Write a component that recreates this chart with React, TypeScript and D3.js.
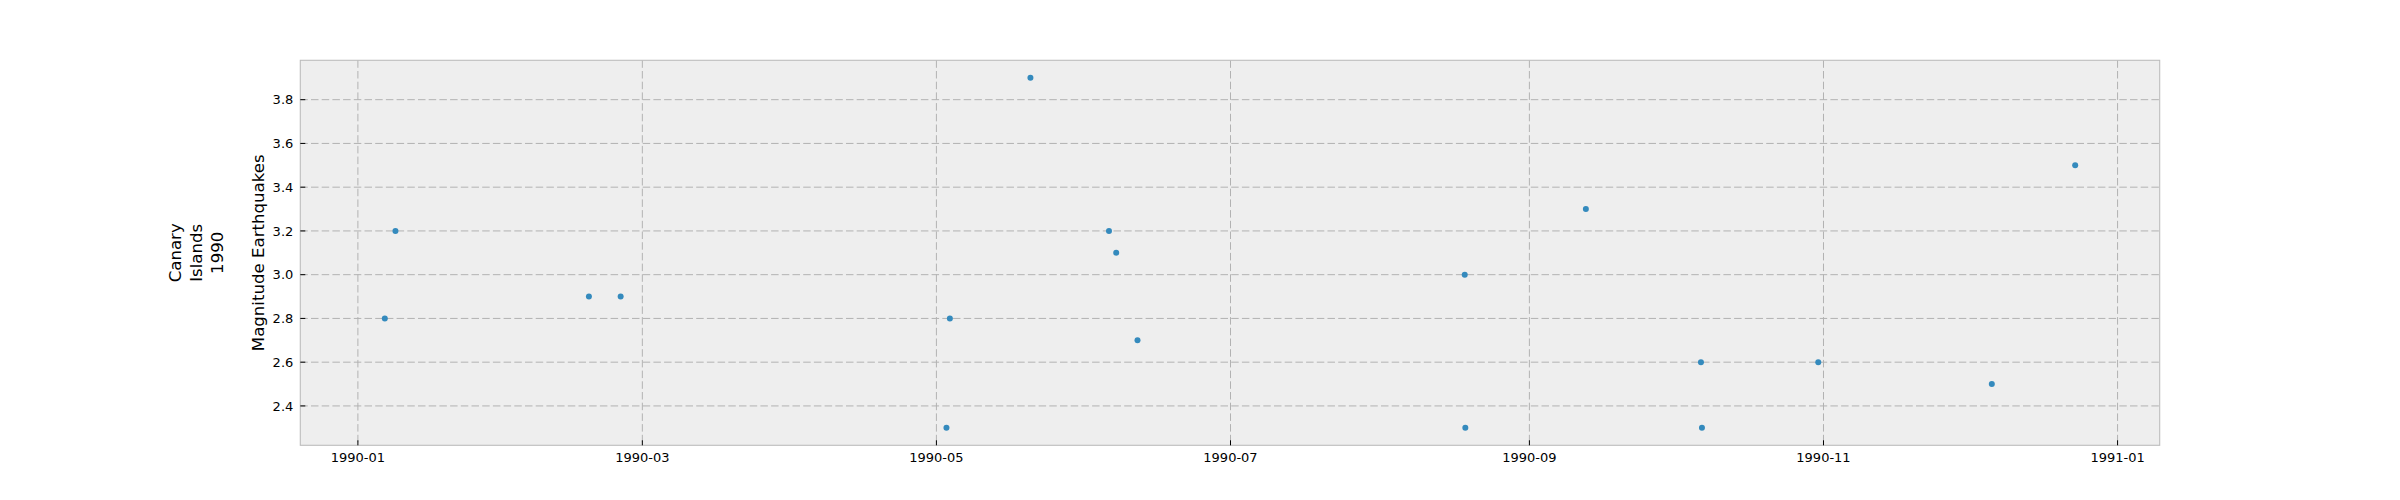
import React from 'react';
import * as d3 from 'd3';

// Event times (UTC) and magnitudes
const eventTimes = [
  '1990-01-06T14:00', '1990-01-08T19:00', '1990-02-17T22:00', '1990-02-24T12:00',
  '1990-05-03T19:00', '1990-05-03T02:00', '1990-05-20T12:00', '1990-06-05T19:00',
  '1990-06-07T07:00', '1990-06-11T17:00', '1990-08-18T14:00', '1990-08-18T17:00',
  '1990-09-12T17:00', '1990-10-06T14:00', '1990-10-06T19:00', '1990-10-30T22:00',
  '1990-12-05T22:00', '1990-12-23T05:00',
];
const magnitudes = [
  2.8, 3.2, 2.9, 2.9,
  2.8, 2.3, 3.9, 3.2,
  3.1, 2.7, 3.0, 2.3,
  3.3, 2.6, 2.3, 2.6,
  2.5, 3.5,
];
const xTickDates = ['1990-01-01', '1990-03-01', '1990-05-01', '1990-07-01', '1990-09-01', '1990-11-01', '1991-01-01'];
const xTickLabels = ['1990-01', '1990-03', '1990-05', '1990-07', '1990-09', '1990-11', '1991-01'];
const yTicks = [2.4, 2.6, 2.8, 3.0, 3.2, 3.4, 3.6, 3.8];
const yLabel = 'Magnitude Earthquakes';
const titleLines = ['Canary', 'Islands', '1990'];

const W = 2400, H = 500;
const L = 300.3, R = 2159.7, T = 60.3, B = 445.3;
const FONT = 'DejaVu Sans, sans-serif';

const parseT = (s: string) => new Date(s + 'Z');

export default function App() {
  const times = eventTimes.map(parseT);
  const tMin = d3.min(times)!.getTime();
  const tMax = d3.max(times)!.getTime();
  const tPad = (tMax - tMin) * 0.05;
  const x = d3.scaleUtc().domain([new Date(tMin - tPad), new Date(tMax + tPad)]).range([L, R]);
  const mMin = d3.min(magnitudes)!;
  const mMax = d3.max(magnitudes)!;
  const mPad = (mMax - mMin) * 0.05;
  const y = d3.scaleLinear().domain([mMin - mPad, mMax + mPad]).range([B, T]);

  const xTicks = xTickDates.map((d) => new Date(d + 'T00:00Z'));
  const cy = (T + B) / 2;

  return (
    <svg width={W} height={H} style={{ position: 'absolute', left: 0, top: 0, background: '#fff' }} fontFamily={FONT}>
      <rect x={L} y={T} width={R - L} height={B - T} fill="#eeeeee" />
      {/* grid */}
      {xTicks.map((d, i) => (
        <line key={'gx' + i} x1={x(d)} x2={x(d)} y1={T} y2={B} stroke="#b2b2b2" strokeWidth={1} strokeDasharray="7.5,3.2" />
      ))}
      {yTicks.map((v, i) => (
        <line key={'gy' + i} x1={L} x2={R} y1={y(v)} y2={y(v)} stroke="#b2b2b2" strokeWidth={1} strokeDasharray="7.5,3.2" />
      ))}
      {/* points */}
      {times.map((t, i) => (
        <circle key={'p' + i} cx={x(t)} cy={y(magnitudes[i])} r={3} fill="#348ABD" />
      ))}
      {/* frame */}
      <rect x={L} y={T} width={R - L} height={B - T} fill="none" stroke="#bcbcbc" strokeWidth={1.1} />
      {/* ticks */}
      {xTicks.map((d, i) => (
        <g key={'tx' + i}>
          <line x1={x(d)} x2={x(d)} y1={B} y2={B - 5} stroke="#000" strokeWidth={1} />
          <text x={x(d)} y={B + 16.5} fontSize={13} textAnchor="middle" fill="#000">{xTickLabels[i]}</text>
        </g>
      ))}
      {yTicks.map((v, i) => (
        <g key={'ty' + i}>
          <line x1={L} x2={L + 5} y1={y(v)} y2={y(v)} stroke="#000" strokeWidth={1} />
          <text x={L - 7} y={y(v)} dy="0.36em" fontSize={13} textAnchor="end" fill="#000">{v.toFixed(1)}</text>
        </g>
      ))}
      {/* axis label */}
      <text transform={`translate(263.5,${cy}) rotate(-90)`} fontSize={16.6} textAnchor="middle" fill="#000">{yLabel}</text>
      {titleLines.map((s, i) => (
        <text key={'tl' + i} transform={`translate(${181 + i * 21.1},${cy}) rotate(-90)`} fontSize={16.6} textAnchor="middle" fill="#000">{s}</text>
      ))}
    </svg>
  );
}
